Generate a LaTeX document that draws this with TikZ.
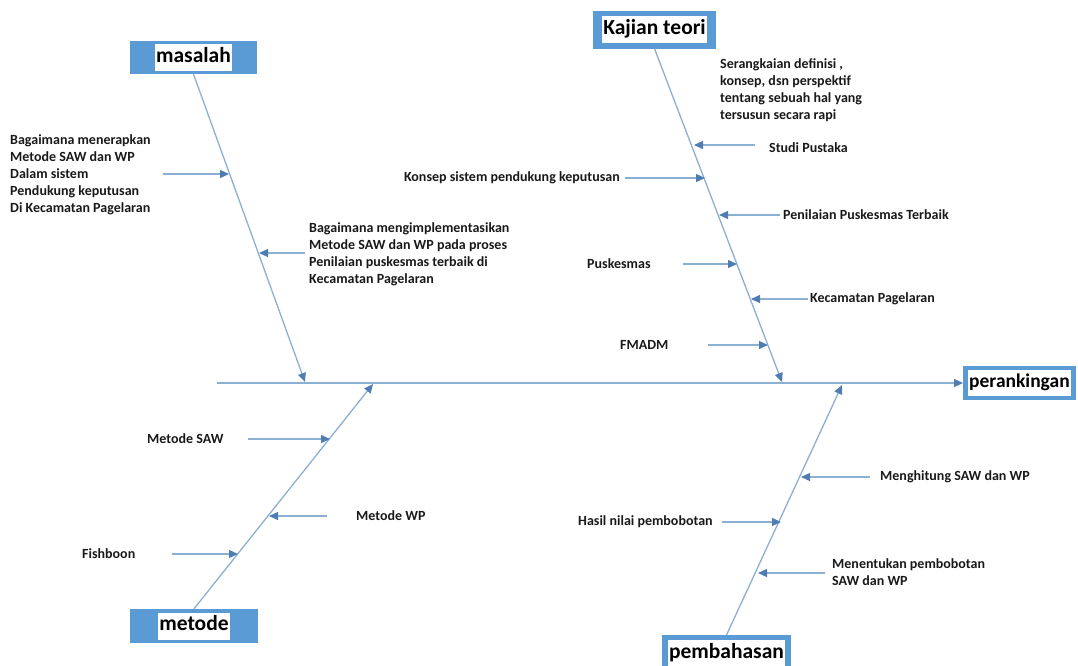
\documentclass[tikz,border=0pt]{standalone}
\usepackage{fontspec}
\setmainfont{Carlito}
\usetikzlibrary{arrows.meta,positioning}
\definecolor{bonecol}{RGB}{140,175,212}
\definecolor{tipcol}{RGB}{79,125,178}
\definecolor{headblue}{RGB}{91,155,213}
\setlength{\fboxsep}{1.5pt}
\newcommand{\hl}[1]{\colorbox{white}{\strut#1}}

\begin{document}
\begin{tikzpicture}[x=1pt,y=-1pt,>={Triangle[length=9pt,width=8pt,color=tipcol]},
	bone/.style={draw=bonecol,line width=1.3pt,->},
	head/.style={fill=headblue,font=\fontsize{21.5}{24}\selectfont\bfseries,text=black},
	cause/.style={font=\fontsize{14}{17}\selectfont\bfseries,text=black!90,inner sep=0pt,align=left}]
	\useasboundingbox (0,0) rectangle (1078,665);
	% heads of the four bones and the result
	\node[head,minimum width=127pt,minimum height=33pt,inner sep=0pt] (masalah) at (193.5,57.5) {\hl{masalah}};
	\node[head,inner xsep=9pt,inner ysep=5.5pt] (kajian) at (654.5,29.5) {\hl{Kajian teori}};
	\node[head,font=\fontsize{19.5}{23}\selectfont\bfseries,inner xsep=4.5pt,inner ysep=4pt,anchor=west] (rank) at (963,383) {\hl{perankingan}};
	\node[head,inner xsep=6pt,inner ysep=5pt,anchor=north] (bahas) at (726.5,635) {\hl{pembahasan}};
	\node[head,minimum width=128pt,minimum height=34pt,inner sep=0pt] (metode) at (194,626) {\hl{metode}};
	% spine and bones
	\coordinate (tail) at (217,383);
	\coordinate (tipM) at (305,382);
	\coordinate (tipK) at (782,382);
	\coordinate (tipT) at (373,384);
	\coordinate (tipB) at (842,385);
	\draw[bone] (tail) -- (rank);
	\draw[bone] (masalah.south) -- (tipM);
	\draw[bone] (kajian.south) -- (tipK);
	\draw[bone] (metode.north) -- (tipT);
	\draw[bone] (bahas.north) -- (tipB);
	% small bones
	\foreach \n/\xa/\xb/\y in {m1/163/229/174,m2/305/259/253,
		k1/755/694/145,k2/625/705/178,k3/780/719/215,k4/683/737/264,k5/808/751/299,k6/708/768/345,
		b1/870/801/477,b2/722/781/522,b3/825/758/573,
		t1/248/330/439,t2/327/269/516,t3/172/238/554}{
		\coordinate (\n a) at (\xa,\y);
		\coordinate (\n b) at (\xb,\y);
		\draw[bone] (\n a) -- (\n b);
	}
	% causes
	\node[cause,anchor=west] (qA) at (10,175) {Bagaimana menerapkan\\Metode SAW dan WP\\Dalam sistem\\Pendukung keputusan\\Di Kecamatan Pagelaran};
	\node[cause,anchor=west] (qB) at (309,254) {Bagaimana mengimplementasikan\\Metode SAW dan WP pada proses\\Penilaian puskesmas terbaik di\\Kecamatan Pagelaran};
	\node[cause,anchor=west] (defn) at (720,90) {Serangkaian definisi ,\\konsep, dsn perspektif\\tentang sebuah hal yang\\tersusun secara rapi};
	\node[cause,anchor=west] (studi) at (769,148) {Studi Pustaka};
	\node[cause,anchor=east] (konsep) at (620,178) {Konsep sistem pendukung keputusan};
	\node[cause,anchor=west] (nilai) at (783,215) {Penilaian Puskesmas Terbaik};
	\node[cause,anchor=west] (pkm) at (587,264) {Puskesmas};
	\node[cause,anchor=west] (kec) at (810,299) {Kecamatan Pagelaran};
	\node[cause,anchor=west] (fmadm) at (620,345) {FMADM};
	\node[cause,anchor=west] (hitung) at (880,477) {Menghitung SAW dan WP};
	\node[cause,anchor=west] (hasil) at (578,522) {Hasil nilai pembobotan};
	\node[cause,anchor=west] (tentu) at (832,572) {Menentukan pembobotan\\SAW dan WP};
	\node[cause,anchor=west] (saw) at (147,439) {Metode SAW};
	\node[cause,anchor=west] (wp) at (356,516) {Metode WP};
	\node[cause,anchor=west] (fish) at (82,554) {Fishboon};
\end{tikzpicture}
\end{document}
